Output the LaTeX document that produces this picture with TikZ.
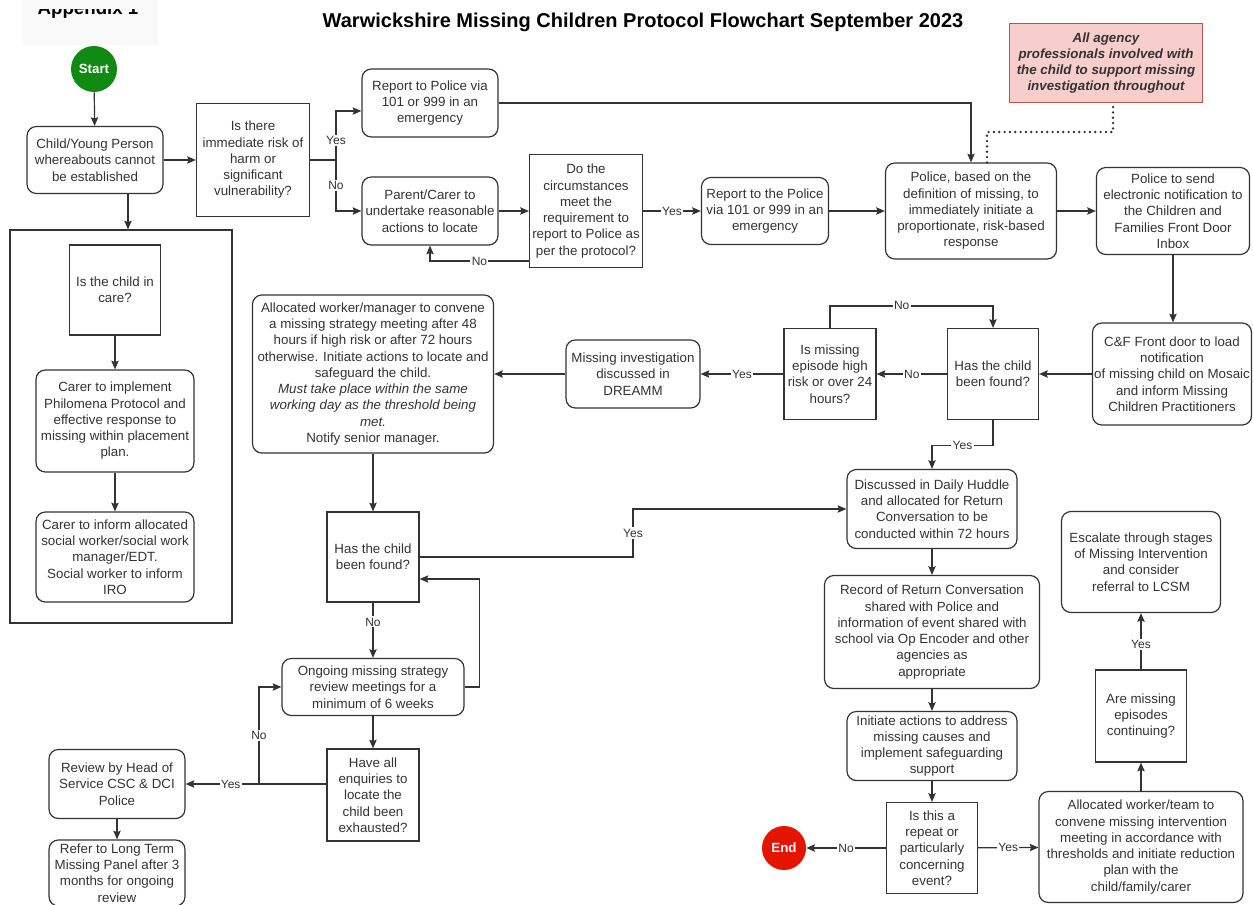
\documentclass[tikz,border=0pt]{standalone}
\usepackage{fontspec}
\setmainfont{Liberation Sans}
\usetikzlibrary{arrows.meta}

\definecolor{linegray}{HTML}{333333}
\definecolor{startgreen}{HTML}{0F8A12}
\definecolor{endred}{HTML}{E51400}
\definecolor{notefill}{HTML}{F8CECC}
\definecolor{noteline}{HTML}{B85450}
\definecolor{sheetgray}{HTML}{F9F9F9}

\tikzset{
	base/.style={draw=linegray, line width=0.9pt, text=linegray, align=center, inner sep=1pt, font=\fontsize{10}{12.2}\selectfont},
	roundbox/.style={base, rounded corners=7pt},
	decision/.style={base},
	boxsize/.style 2 args={minimum width=#1*0.75pt, minimum height=#2*0.75pt},
	terminal/.style={circle, draw=none, fill=#1, text=white, inner sep=0pt, font=\fontsize{10}{12}\selectfont\bfseries},
	arr/.style={draw=linegray, line width=0.9pt, -{Stealth[length=6.5pt,width=5.5pt,inset=1pt]}},
	link/.style={draw=linegray, line width=0.9pt},
	lbl/.style={fill=white, text=linegray, inner sep=1pt, font=\fontsize{9}{10}\selectfont},
	dots/.style={draw=linegray, line width=2pt, line cap=round, dash pattern=on 0pt off 4pt}
}

\begin{document}
\begin{tikzpicture}[x=0.75pt,y=-0.75pt]
			\useasboundingbox (0,0) rectangle (1253,904);
			\fill[sheetgray] (22,0) rectangle (158,45);
			\node[font=\fontsize{14}{16}\selectfont\bfseries, anchor=base] (appendix) at (88,14) {Appendix 1};
			\fill[sheetgray] (22,0) rectangle (158,9);
			\node[font=\fontsize{15}{18}\selectfont\bfseries] (title) at (643,22) {Warwickshire Missing Children Protocol Flowchart September 2023};

			\node[terminal=startgreen, minimum size=34.5pt] (start) at (94,69) {Start};
			\node[roundbox, boxsize={136}{67}] (child) at (95,160) {Child/Young Person\\whereabouts cannot\\be established};
			\node[decision, boxsize={113}{113}] (risk) at (253,160) {Is there\\immediate risk of\\harm or\\significant\\vulnerability?};
			\node[roundbox, boxsize={136}{68}] (report) at (430,103) {Report to Police via\\101 or 999 in an\\emergency};
			\node[roundbox, boxsize={136}{68}] (parent) at (430,211) {Parent/Carer to\\undertake reasonable\\actions to locate};
			\node[decision, boxsize={113}{113}] (meet) at (586,211) {Do the\\circumstances\\meet the\\requirement to\\report to Police as\\per the protocol?};
			\node[roundbox, boxsize={127}{67}] (policecall) at (765,211) {Report to the Police\\via 101 or 999 in an\\emergency};
			\node[roundbox, boxsize={171}{96}] (police) at (971,211) {Police, based on the\\definition of missing, to\\immediately initiate a\\proportionate, risk-based\\response};
			\node[roundbox, boxsize={153}{87}] (notify) at (1173,211) {Police to send\\electronic notification to\\the Children and\\Families Front Door\\Inbox};
			\node[base, fill=notefill, draw=noteline, boxsize={193}{79}, font=\fontsize{10}{12.2}\selectfont\bfseries\itshape] (note) at (1106,63) {All agency\\professionals involved with\\the child to support missing\\investigation throughout};

			\node[roundbox, boxsize={159}{102}] (frontdoor) at (1172,374) {C\&F Front door to load\\notification\\of missing child on Mosaic\\and inform Missing\\Children Practitioners};
			\node[decision, boxsize={91}{91}] (found) at (993,374) {Has the child\\been found?};
			\node[decision, boxsize={92}{91}] (highrisk) at (830,374) {Is missing\\episode high\\risk or over 24\\hours?};
			\node[roundbox, boxsize={134}{68}] (dreamm) at (633,374) {Missing investigation\\discussed in\\DREAMM};
			\node[roundbox, boxsize={241}{158}] (strategy) at (373,374) {Allocated worker/manager to convene\\a missing strategy meeting after 48\\hours if high risk or after 72 hours\\otherwise. Initiate actions to locate and\\safeguard the child.\\\textit{Must take place within the same}\\\textit{working day as the threshold being}\\\textit{met.}\\Notify senior manager.};

			\node[decision, boxsize={92}{90}] (found2) at (373,557) {Has the child\\been found?};
			\node[roundbox, boxsize={182}{57}] (ongoing) at (373,687) {Ongoing missing strategy\\review meetings for a\\minimum of 6 weeks};
			\node[decision, boxsize={92}{92}] (exhaust) at (373,795) {Have all\\enquiries to\\locate the\\child been\\exhausted?};
			\node[roundbox, boxsize={136}{69}] (review) at (117,784) {Review by Head of\\Service CSC \& DCI\\Police};
			\node[roundbox, boxsize={136}{66}] (panel) at (117,873) {Refer to Long Term\\Missing Panel after 3\\months for ongoing\\review};

			\node[draw=linegray, line width=0.9pt, boxsize={222}{393}] (carebox) at (121,426.5) {};
			\node[decision, boxsize={91}{90}] (incare) at (115,290) {Is the child in\\care?};
			\node[roundbox, boxsize={158}{102}] (implement) at (115,421) {Carer to implement\\Philomena Protocol and\\effective response to\\missing within placement\\plan.};
			\node[roundbox, boxsize={158}{90}] (inform) at (115,557) {Carer to inform allocated\\social worker/social work\\manager/EDT.\\Social worker to inform\\IRO};

			\node[roundbox, boxsize={170}{79}] (huddle) at (932,509) {Discussed in Daily Huddle\\and allocated for Return\\Conversation to be\\conducted within 72 hours};
			\node[roundbox, boxsize={215}{113}] (record) at (932,632) {Record of Return Conversation\\shared with Police and\\information of event shared with\\school via Op Encoder and other\\agencies as\\appropriate};
			\node[roundbox, boxsize={170}{69}] (initiate) at (932,746) {Initiate actions to address\\missing causes and\\implement safeguarding\\support};
			\node[decision, boxsize={91}{91}] (repeat) at (932,848) {Is this a\\repeat or\\particularly\\concerning\\event?};
			\node[terminal=endred, minimum size=33pt] (finish) at (784,848) {End};
			\node[roundbox, boxsize={204}{111}] (team) at (1141,847) {Allocated worker/team to\\convene missing intervention\\meeting in accordance with\\thresholds and initiate reduction\\plan with the\\child/family/carer};
			\node[decision, boxsize={91}{92}] (continuing) at (1141,716) {Are missing\\episodes\\continuing?};
			\node[roundbox, boxsize={159}{101}] (escalate) at (1141,562) {Escalate through stages\\of Missing Intervention\\and consider\\referral to LCSM};

			\draw[arr] (start) -- (child);
			\draw[arr] (child) -- (risk);
			\draw[arr] ([xshift=24.75pt]child.south) -- ([xshift=24.75pt]child.south |- carebox.north);
			\draw[arr] (incare) -- (implement);
			\draw[arr] (implement) -- (inform);

			\coordinate (split) at (336,160);
			\draw[link] (risk.east) -- (split);
			\draw[arr] (split) |- node[lbl,pos=0.2]{Yes} ([yshift=-6pt]report.west);
			\draw[arr] (split) |- node[lbl,pos=0.25]{No} (parent.west);
			\draw[arr] (report.east) -| (police.north);
			\draw[arr] (parent) -- (meet);
			\draw[arr] ([yshift=-37.5pt]meet.west) -| node[lbl,pos=0.25]{No} (parent.south);
			\draw[arr] (meet) -- node[lbl]{Yes} (policecall);
			\draw[arr] (policecall) -- (police);
			\draw[arr] (police) -- (notify);

			\coordinate (dot1) at (987,132);
			\coordinate (dot2) at (1113,132);
			\draw[dots] (police.north -| dot1) -- (dot1) -- (dot2) -- (note.south -| dot2);

			\draw[arr] (notify.south) -- (notify.south |- frontdoor.north);
			\draw[arr] (frontdoor) -- (found);
			\draw[arr] (found) -- node[lbl]{No} (highrisk);
			\draw[arr] (highrisk.north) -- ++(0,-22) -| node[lbl,pos=0.22]{No} (found.north);
			\draw[arr] (highrisk) -- node[lbl]{Yes} (dreamm);
			\draw[arr] (dreamm) -- (strategy);
			\draw[arr] (strategy) -- (found2);
			\draw[arr] (found.south) -- ++(0,25) -| node[lbl,pos=0.25]{Yes} (huddle.north);

			\coordinate (bend) at (633,557);
			\draw[arr] (found2.east) -- (bend) |- node[lbl,pos=0.25]{Yes} (huddle.west);
			\draw[arr] (found2) -- node[lbl,pos=0.35]{No} (ongoing);
			\draw[arr] (ongoing.east) -- ++(15,0) |- ([yshift=-16.5pt]found2.east);
			\draw[arr] (ongoing) -- (exhaust);
			\draw[arr] (exhaust.west |- review.east) -- node[lbl,pos=0.68]{Yes} (review.east);
			\coordinate (split2) at (259,784);
			\draw[arr] (split2) |- node[lbl,pos=0.25]{No} (ongoing.west);
			\draw[arr] (review) -- (panel);

			\draw[arr] (huddle) -- (record);
			\draw[arr] (record) -- (initiate);
			\draw[arr] (initiate) -- (repeat);
			\draw[arr] (repeat) -- node[lbl]{No} (finish);
			\draw[arr] (repeat) -- node[lbl]{Yes} (team);
			\draw[arr] (team) -- (continuing);
			\draw[arr] (continuing) -- node[lbl,pos=0.45]{Yes} (escalate);
		\end{tikzpicture}
\end{document}
